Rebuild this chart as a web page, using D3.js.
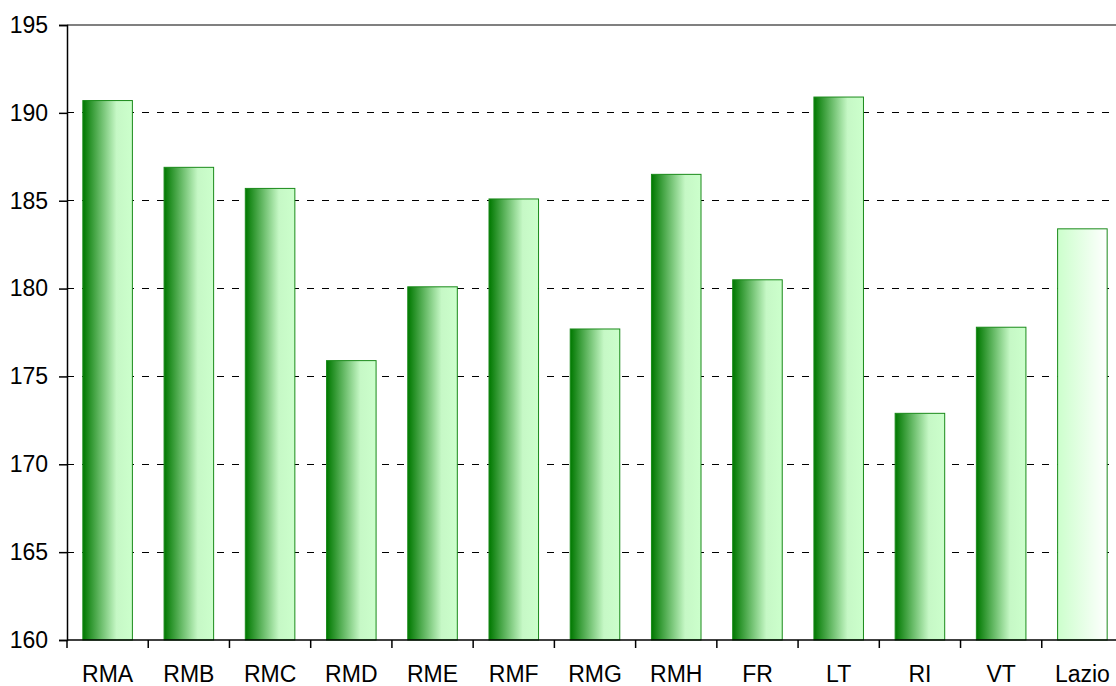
<!DOCTYPE html>
<html>
<head>
<meta charset="utf-8">
<script src="https://cdn.jsdelivr.net/npm/d3@7"></script>
<style>
  body { margin: 0; background: #fff; }
  svg { display: block; font-family: "Liberation Sans", Arial, sans-serif; }
</style>
</head>
<body>
<svg id="chart" width="1116" height="686"></svg>
<script>
// data
var categories = ["RMA", "RMB", "RMC", "RMD", "RME", "RMF", "RMG", "RMH", "FR", "LT", "RI", "VT", "Lazio"];
var values = [190.7, 186.9, 185.7, 175.9, 180.1, 185.1, 177.7, 186.5, 180.5, 190.9, 172.9, 177.8, 183.4];
var yTicks = [160, 165, 170, 175, 180, 185, 190, 195];

var svg = d3.select("#chart");
var plotLeft = 67, plotTop = 25, plotBottom = 640, plotRight = 1123;

var x = d3.scaleBand()
    .domain(categories)
    .range([plotLeft, plotRight])
    .paddingInner(0.39)
    .paddingOuter(0.195);

var y = d3.scaleLinear()
    .domain([160, 195])
    .range([plotBottom, plotTop]);

// gradients
var defs = svg.append("defs");
var g1 = defs.append("linearGradient").attr("id", "grad").attr("x1", "0%").attr("x2", "100%");
g1.append("stop").attr("offset", "0%").attr("stop-color", "#007800");
g1.append("stop").attr("offset", "68%").attr("stop-color", "#c6f8c6");
g1.append("stop").attr("offset", "100%").attr("stop-color", "#ccffcc");
var g2 = defs.append("linearGradient").attr("id", "gradLast").attr("x1", "0%").attr("x2", "100%");
g2.append("stop").attr("offset", "0%").attr("stop-color", "#ccffcc");
g2.append("stop").attr("offset", "100%").attr("stop-color", "#ffffff");

// dashed gridlines
svg.append("g")
  .selectAll("line")
  .data(yTicks.filter(function (d) { return d > 160 && d < 195; }))
  .enter().append("line")
    .attr("x1", plotLeft).attr("x2", 1116)
    .attr("y1", function (d) { return y(d); })
    .attr("y2", function (d) { return y(d); })
    .attr("stroke", "#000")
    .attr("stroke-width", 1)
    .attr("stroke-dasharray", "7,8")
    .attr("shape-rendering", "crispEdges");

// top border of plot area
svg.append("line")
    .attr("x1", plotLeft).attr("x2", 1116)
    .attr("y1", y(195)).attr("y2", y(195))
    .attr("stroke", "#808080").attr("stroke-width", 2);

// bars
svg.append("g")
  .selectAll("rect")
  .data(values)
  .enter().append("rect")
    .attr("x", function (d, i) { return x(categories[i]); })
    .attr("y", function (d) { return y(d); })
    .attr("width", x.bandwidth())
    .attr("height", function (d) { return plotBottom - y(d); })
    .attr("fill", function (d, i) { return i === categories.length - 1 ? "url(#gradLast)" : "url(#grad)"; })
    .attr("stroke", "#1a8a1a")
    .attr("stroke-width", 1);

// y axis
var yAxis = svg.append("g")
    .attr("transform", "translate(" + plotLeft + ",0)")
    .call(d3.axisLeft(y).tickValues(yTicks).tickSize(8).tickPadding(11).tickFormat(d3.format("d")));
yAxis.select(".domain").attr("stroke", "#000").attr("stroke-width", 1.5);
yAxis.selectAll(".tick line").attr("stroke", "#000").attr("stroke-width", 1.5);
yAxis.selectAll("text").attr("font-size", 23).attr("fill", "#000")
    .attr("font-family", "Liberation Sans, Arial, sans-serif");

// x axis: ticks between categories
var step = x.step();
var xAxis = svg.append("g").attr("transform", "translate(0," + plotBottom + ")");
xAxis.append("line")
    .attr("x1", plotLeft).attr("x2", 1116)
    .attr("y1", 0).attr("y2", 0)
    .attr("stroke", "#000").attr("stroke-width", 1.5);
xAxis.selectAll(".xt")
  .data(categories)
  .enter().append("line")
    .attr("class", "xt")
    .attr("x1", function (d) { return x(d) - step * x.paddingInner() / 2; })
    .attr("x2", function (d) { return x(d) - step * x.paddingInner() / 2; })
    .attr("y1", 0).attr("y2", 8)
    .attr("stroke", "#000").attr("stroke-width", 1.5);
xAxis.selectAll(".xl")
  .data(categories)
  .enter().append("text")
    .attr("class", "xl")
    .attr("x", function (d) { return x(d) + x.bandwidth() / 2; })
    .attr("y", 42)
    .attr("text-anchor", "middle")
    .attr("font-size", 23)
    .attr("fill", "#000")
    .text(function (d) { return d; });
</script>
</body>
</html>
